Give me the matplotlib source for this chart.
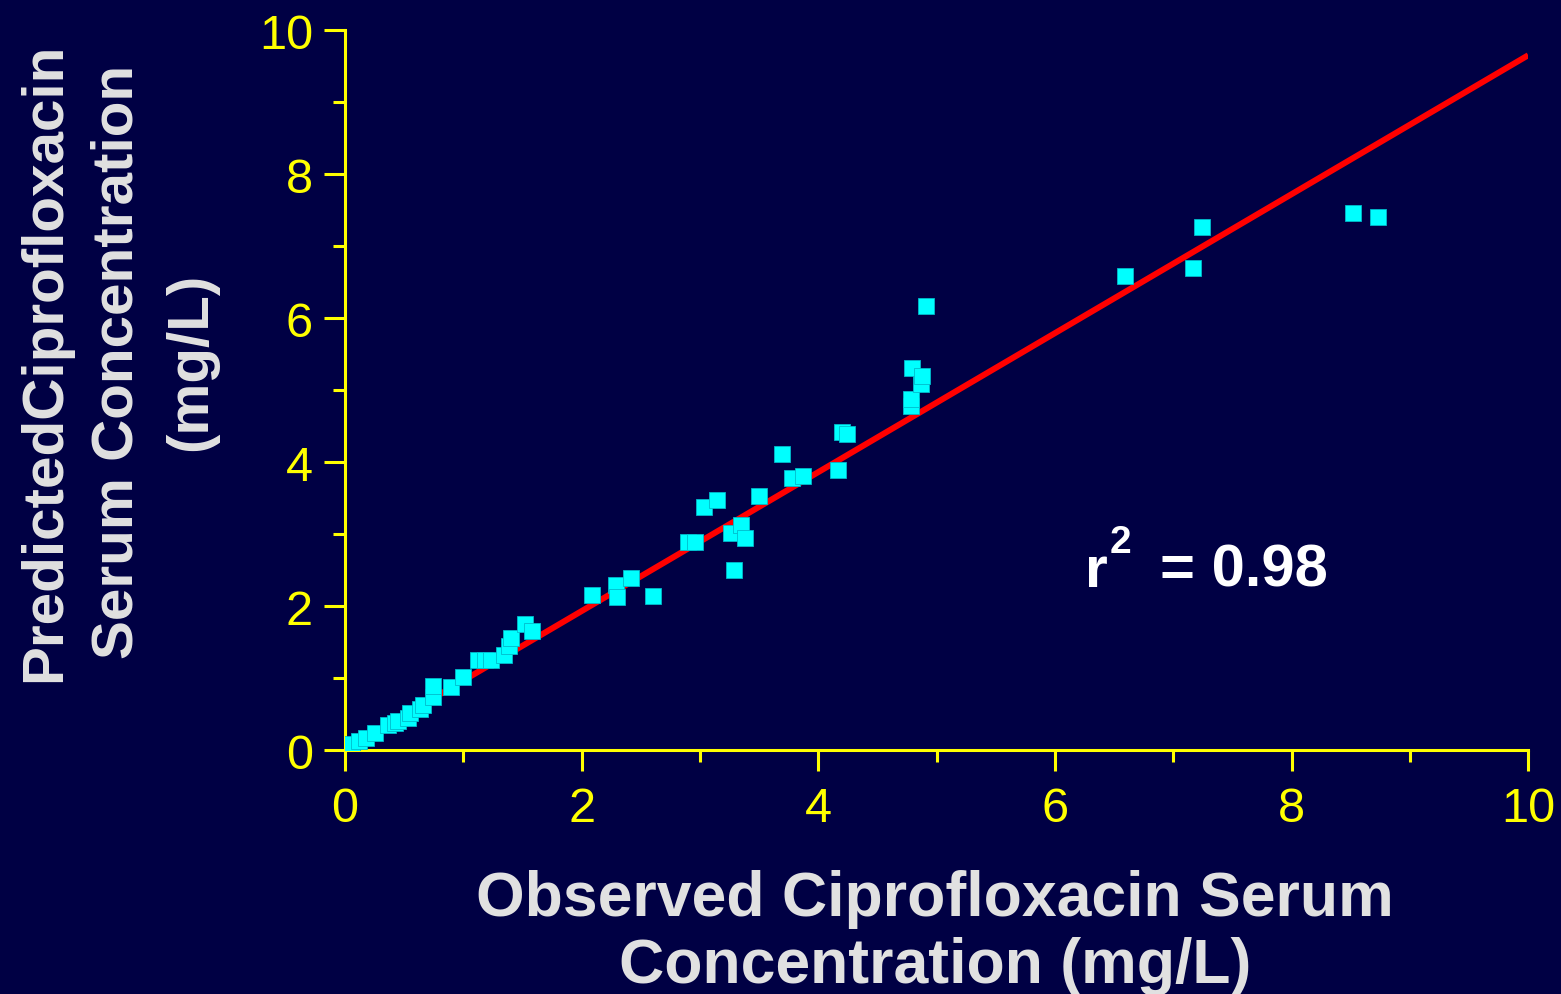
import numpy as np
import matplotlib.pyplot as plt
from matplotlib.ticker import MultipleLocator

# observed vs predicted ciprofloxacin serum concentrations (mg/L)
observed = [0.06, 0.12, 0.18, 0.25, 0.36, 0.42, 0.45, 0.53, 0.55, 0.63, 0.66, 0.74, 0.74,
            0.90, 1.00, 1.12, 1.18, 1.23, 1.34, 1.39, 1.40, 1.52, 1.58,
            2.09, 2.29, 2.30, 2.42, 2.60, 2.90, 2.96, 3.03, 3.14, 3.26, 3.29, 3.35, 3.38,
            3.50, 3.69, 3.78, 3.87, 4.17, 4.20, 4.24,
            4.78, 4.78, 4.79, 4.87, 4.88, 4.91,
            6.59, 7.17, 7.24, 8.52, 8.73]
predicted = [0.08, 0.12, 0.17, 0.24, 0.35, 0.38, 0.40, 0.44, 0.52, 0.57, 0.62, 0.74, 0.89,
             0.88, 1.01, 1.25, 1.25, 1.25, 1.32, 1.44, 1.56, 1.75, 1.65,
             2.15, 2.29, 2.12, 2.39, 2.14, 2.89, 2.89, 3.38, 3.47, 3.01, 2.50, 3.13, 2.94,
             3.53, 4.11, 3.78, 3.81, 3.89, 4.42, 4.39,
             4.78, 4.87, 5.31, 5.08, 5.19, 6.17,
             6.58, 6.69, 7.26, 7.46, 7.40]

# regression line
slope = 0.965
intercept = 0.0
r_squared = 0.98

bg = '#000044'
fg = '#e1e1e1'
tick_color = '#ffff00'

plt.rcParams['font.family'] = ['Liberation Sans', 'DejaVu Sans']

fig = plt.figure(figsize=(15.61, 9.95), dpi=100, facecolor=bg)
ax = fig.add_axes([0.221, 0.2452, 0.758, 0.7236], facecolor=bg)

xs = np.array([0, 10])
ax.plot(xs, slope * xs + intercept, color='#ff0000', lw=4.3, zorder=2, solid_capstyle='butt')
ax.plot(observed, predicted, ls='none', marker='s', ms=11.5, mfc='#00ffff',
        mec='#00bbcc', mew=0.6, zorder=3)

ax.set_xlim(0, 10)
ax.set_ylim(0, 10)
for s in ['top', 'right']:
    ax.spines[s].set_visible(False)
for s in ['left', 'bottom']:
    ax.spines[s].set_color(tick_color)
    ax.spines[s].set_linewidth(2.2)

ax.xaxis.set_major_locator(MultipleLocator(2))
ax.xaxis.set_minor_locator(MultipleLocator(1))
ax.yaxis.set_major_locator(MultipleLocator(2))
ax.yaxis.set_minor_locator(MultipleLocator(1))
ax.tick_params(which='both', colors=tick_color, width=2.2, direction='out')
ax.tick_params(which='major', length=15, labelsize=35)
ax.tick_params(which='minor', length=8.5)
ax.tick_params(axis='x', which='major', pad=11)
ax.tick_params(axis='y', which='major', pad=8)
ax.tick_params(axis='both', labelcolor=tick_color)

# r^2 annotation, superscript placed by offset from the "r"
rx, ry = 6.255, 2.28
ax.text(rx, ry, 'r', fontsize=42, fontweight='bold', color='white', ha='left', va='baseline')
ax.annotate('2', (rx, ry), xytext=(18, 24.5), textcoords='offset points', fontsize=28,
            fontweight='bold', color='white', ha='left', va='baseline')
ax.annotate(f'= {r_squared:.2f}', (rx, ry), xytext=(54, 0), textcoords='offset points',
            fontsize=43, fontweight='bold', color='white', ha='left', va='baseline')

fig.text(0.599, 0.0625, 'Observed Ciprofloxacin Serum\nConcentration (mg/L)', ha='center',
         va='center', fontsize=45, fontweight='bold', color=fg, linespacing=1.165)
fig.text(0.0755, 0.636, 'PredictedCiprofloxacin\nSerum Concentration\n(mg/L)', ha='center',
         va='center', rotation=90, fontsize=42, fontweight='bold', color=fg, linespacing=1.45)

fig.savefig('out.png', dpi=100, facecolor=bg)
